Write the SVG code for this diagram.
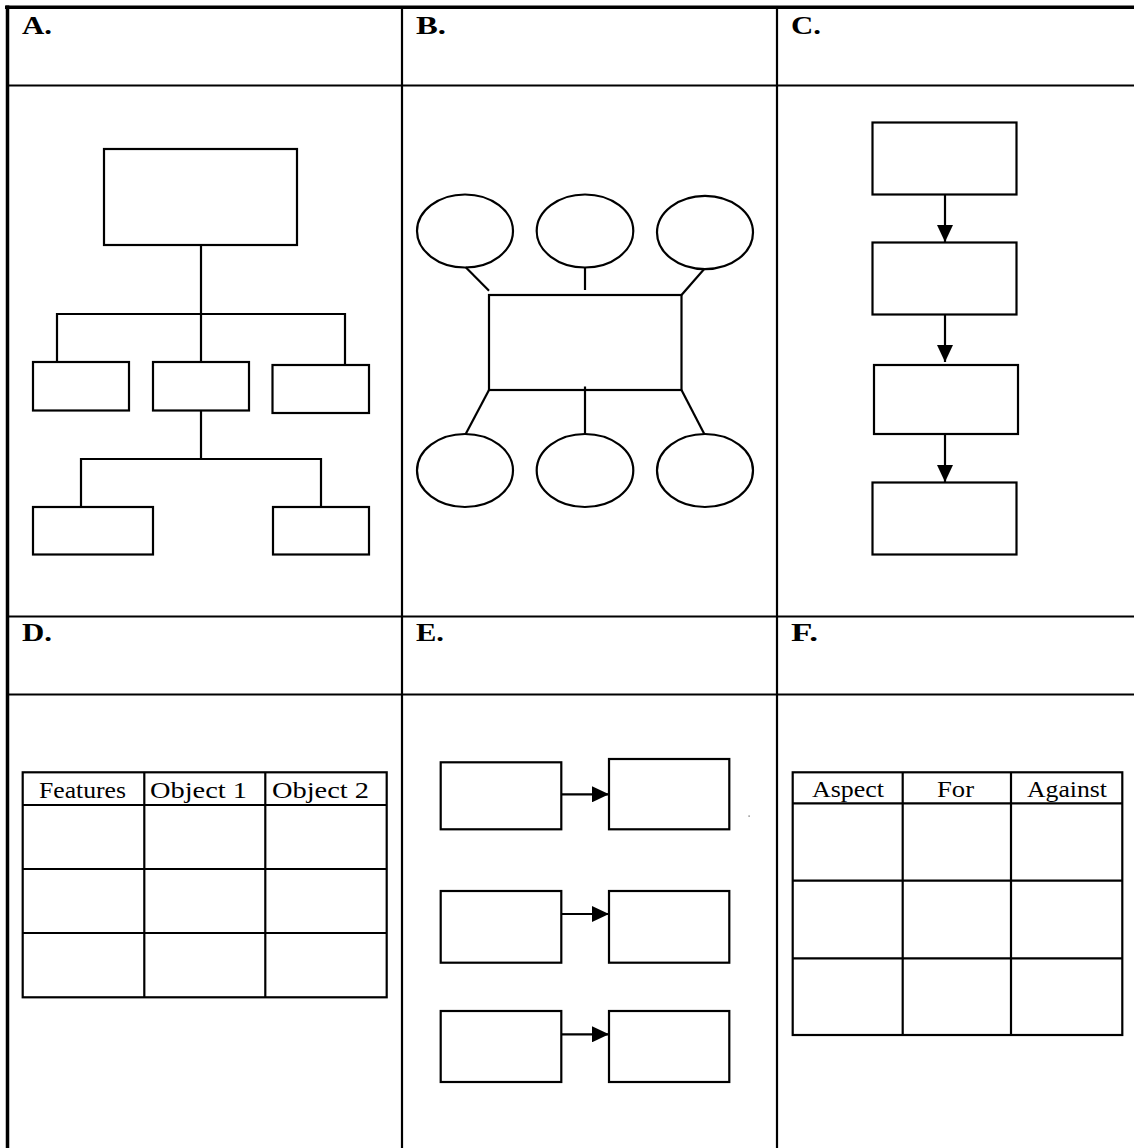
<svg xmlns="http://www.w3.org/2000/svg" width="1134" height="1148" viewBox="0 0 1134 1148">
<style>
.bx{fill:#fff;stroke:#000;stroke-width:2.2}
.ln{fill:none;stroke:#000;stroke-width:2.2}
.grid{fill:none;stroke:#000;stroke-width:2.2}
.outer{fill:none;stroke:#000;stroke-width:3.5}
.lbl{font-family:"Liberation Serif","Times New Roman",serif;font-weight:bold;font-size:26px;fill:#000}
.th{font-family:"Liberation Serif","Times New Roman",serif;font-size:24px;fill:#000}
</style>
<defs>
<marker id="ah" markerUnits="userSpaceOnUse" markerWidth="17" markerHeight="16" refX="17" refY="8" orient="auto">
<path d="M0,0 L17,8 L0,16 Z" fill="#000"/>
</marker>
</defs>
<rect width="1134" height="1148" fill="#fff"/>
<g id="grid">
<line class="outer" x1="5" y1="7.3" x2="1134" y2="7.3"/>
<line class="outer" x1="7.5" y1="5.5" x2="7.5" y2="1148"/>
<line class="grid" x1="9" y1="85.5" x2="1134" y2="85.5"/>
<line class="grid" x1="9" y1="616.5" x2="1134" y2="616.5"/>
<line class="grid" x1="9" y1="694.5" x2="1134" y2="694.5"/>
<line class="grid" x1="402" y1="9" x2="402" y2="1148"/>
<line class="grid" x1="777" y1="9" x2="777" y2="1148"/>
</g>
<g id="labels">
<text class="lbl" x="22" y="34" textLength="30" lengthAdjust="spacingAndGlyphs">A.</text>
<text class="lbl" x="416" y="34" textLength="30" lengthAdjust="spacingAndGlyphs">B.</text>
<text class="lbl" x="791" y="34" textLength="30" lengthAdjust="spacingAndGlyphs">C.</text>
<text class="lbl" x="22" y="641" textLength="30" lengthAdjust="spacingAndGlyphs">D.</text>
<text class="lbl" x="416" y="641" textLength="28" lengthAdjust="spacingAndGlyphs">E.</text>
<text class="lbl" x="791" y="641" textLength="27" lengthAdjust="spacingAndGlyphs">F.</text>
</g>
<!-- A: hierarchy -->
<g id="a-root"><rect class="bx" x="104" y="149" width="193" height="96"/></g>
<g id="a-l1"><rect class="bx" x="33" y="362" width="96" height="48.5"/></g>
<g id="a-m1"><rect class="bx" x="153" y="362" width="96" height="48.5"/></g>
<g id="a-r1"><rect class="bx" x="272.5" y="365" width="96.5" height="48"/></g>
<g id="a-l2"><rect class="bx" x="33" y="507" width="120" height="47.5"/></g>
<g id="a-r2"><rect class="bx" x="273" y="507" width="96" height="47.5"/></g>
<!-- B: spider -->
<g id="b-center"><rect class="bx" x="489" y="295" width="192.5" height="95"/></g>
<g id="b-t1"><ellipse class="bx" cx="465" cy="231" rx="48" ry="36.5"/></g>
<g id="b-t2"><ellipse class="bx" cx="585" cy="231" rx="48.3" ry="36.5"/></g>
<g id="b-t3"><ellipse class="bx" cx="705" cy="232.5" rx="48" ry="36.7"/></g>
<g id="b-b1"><ellipse class="bx" cx="465" cy="470.5" rx="48" ry="36.5"/></g>
<g id="b-b2"><ellipse class="bx" cx="585" cy="470.5" rx="48.3" ry="36.5"/></g>
<g id="b-b3"><ellipse class="bx" cx="705" cy="470.5" rx="48" ry="36.5"/></g>
<!-- C: flow -->
<g id="c-1"><rect class="bx" x="872.5" y="122.5" width="144" height="72"/></g>
<g id="c-2"><rect class="bx" x="872.5" y="242.5" width="144" height="72"/></g>
<g id="c-3"><rect class="bx" x="874" y="365" width="144" height="69"/></g>
<g id="c-4"><rect class="bx" x="872.5" y="482.5" width="144" height="72"/></g>
<!-- D: table -->
<g id="d-table">
<rect class="bx" x="22.7" y="772.3" width="364" height="225"/>
<line class="ln" x1="144.3" y1="772.3" x2="144.3" y2="997.3"/>
<line class="ln" x1="265.3" y1="772.3" x2="265.3" y2="997.3"/>
<line class="ln" x1="22.7" y1="805" x2="386.7" y2="805"/>
<line class="ln" x1="22.7" y1="869" x2="386.7" y2="869"/>
<line class="ln" x1="22.7" y1="933" x2="386.7" y2="933"/>
<text class="th" x="39" y="798" textLength="87" lengthAdjust="spacingAndGlyphs">Features</text>
<text class="th" x="150" y="798" textLength="97" lengthAdjust="spacingAndGlyphs">Object 1</text>
<text class="th" x="272" y="798" textLength="97" lengthAdjust="spacingAndGlyphs">Object 2</text>
</g>
<!-- E: pairs -->
<g id="e-1a"><rect class="bx" x="440.7" y="762.3" width="120.6" height="67"/></g>
<g id="e-1b"><rect class="bx" x="609" y="759" width="120.3" height="70.3"/></g>
<g id="e-2a"><rect class="bx" x="440.7" y="891" width="120.6" height="71.7"/></g>
<g id="e-2b"><rect class="bx" x="609" y="891" width="120.3" height="71.7"/></g>
<g id="e-3a"><rect class="bx" x="440.7" y="1011" width="120.6" height="71"/></g>
<g id="e-3b"><rect class="bx" x="609" y="1011" width="120.3" height="71"/></g>
<g id="e-dot"><rect x="748.5" y="815.5" width="1.2" height="1.2" fill="#555"/></g>
<!-- F: table -->
<g id="f-table">
<rect class="bx" x="792.7" y="772.3" width="329.6" height="262.7"/>
<line class="ln" x1="902.7" y1="772.3" x2="902.7" y2="1035"/>
<line class="ln" x1="1011" y1="772.3" x2="1011" y2="1035"/>
<line class="ln" x1="792.7" y1="803.3" x2="1122.3" y2="803.3"/>
<line class="ln" x1="792.7" y1="880.7" x2="1122.3" y2="880.7"/>
<line class="ln" x1="792.7" y1="958.3" x2="1122.3" y2="958.3"/>
<text class="th" x="812" y="797" textLength="72" lengthAdjust="spacingAndGlyphs">Aspect</text>
<text class="th" x="937" y="797" textLength="37" lengthAdjust="spacingAndGlyphs">For</text>
<text class="th" x="1027" y="797" textLength="80" lengthAdjust="spacingAndGlyphs">Against</text>
</g>
<g id="connectors">
<!-- A -->
<line class="ln" x1="201" y1="245" x2="201" y2="362"/>
<polyline class="ln" points="57,362 57,314 345,314 345,365"/>
<line class="ln" x1="201" y1="410.5" x2="201" y2="459"/>
<polyline class="ln" points="81,507 81,459 321,459 321,507"/>
<!-- B -->
<line class="ln" x1="465.7" y1="267.3" x2="489" y2="290.7"/>
<line class="ln" x1="585" y1="267.5" x2="585" y2="290"/>
<line class="ln" x1="704" y1="269.3" x2="681.5" y2="295"/>
<line class="ln" x1="489" y1="390" x2="465.7" y2="434"/>
<line class="ln" x1="585" y1="386.5" x2="585" y2="434"/>
<line class="ln" x1="681.5" y1="390" x2="704.3" y2="434"/>
<!-- C -->
<line class="ln" x1="945" y1="194.5" x2="945" y2="242" marker-end="url(#ah)"/>
<line class="ln" x1="945" y1="314.5" x2="945" y2="362" marker-end="url(#ah)"/>
<line class="ln" x1="945" y1="434" x2="945" y2="482" marker-end="url(#ah)"/>
<!-- E -->
<line class="ln" x1="561.3" y1="794.3" x2="609" y2="794.3" marker-end="url(#ah)"/>
<line class="ln" x1="561.3" y1="914" x2="609" y2="914" marker-end="url(#ah)"/>
<line class="ln" x1="561.3" y1="1034.3" x2="609" y2="1034.3" marker-end="url(#ah)"/>
</g>
</svg>
